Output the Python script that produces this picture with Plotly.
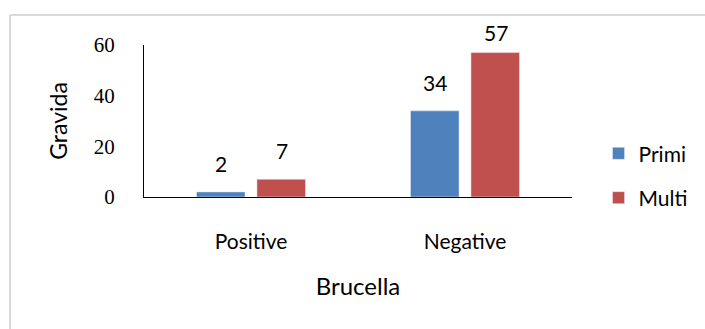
import plotly.graph_objects as go

categories = ["Positive", "Negative"]
primi = [2, 34]
multi = [7, 57]
y_ticks = [0, 20, 40, 60]
Y_MAX = 60

SANS = "Lato"
SERIF = "Liberation Serif"
BAR_SLOT_PX = 30.5  # half of the per-series slot width inside a category

fig = go.Figure()
fig.add_trace(go.Bar(
    name="Primi", x=categories, y=primi,
    marker=dict(color="#4F81BD"),
    legendgroup="primi",
))
fig.add_trace(go.Bar(
    name="Multi", x=categories, y=multi,
    marker=dict(color="#C0504D"),
    legendgroup="multi",
))

# value labels above each bar; labels near the top of the axis sit closer
for values, shift in ((primi, -BAR_SLOT_PX), (multi, BAR_SLOT_PX)):
    for cat, v in zip(categories, values):
        fig.add_annotation(
            x=cat, y=v, xref="x", yref="y", text=str(v),
            showarrow=False, xshift=shift,
            yshift=6 if v > 0.9 * Y_MAX else 14, yanchor="bottom",
            font=dict(family=SANS, size=21, color="#000000"),
        )

fig.update_layout(
    width=705, height=329,
    margin=dict(l=144, r=129, t=45, b=132),
    paper_bgcolor="white", plot_bgcolor="white",
    barmode="group", bargap=0.435, bargroupgap=0.197,
    font=dict(family=SANS, color="#000000"),
    legend=dict(
        x=1.062, xanchor="left", y=0.14, yanchor="middle",
        font=dict(family=SANS, size=21),
        tracegroupgap=14, bgcolor="rgba(0,0,0,0)",
    ),
    shapes=[
        dict(type="line", xref="paper", yref="paper",
             x0=-0.313, x1=1.4, y0=1.197, y1=1.197,
             line=dict(color="#D9D9D9", width=2)),
        dict(type="line", xref="paper", yref="paper",
             x0=-0.313, x1=-0.313, y0=1.197, y1=-1.0,
             line=dict(color="#D9D9D9", width=2)),
    ],
)

fig.update_xaxes(
    showline=True, linecolor="#000000", linewidth=1,
    showgrid=False, ticks="",
    tickfont=dict(family=SANS, size=21),
    ticklabelstandoff=26,
    title=dict(text="Brucella", font=dict(family=SANS, size=24), standoff=25),
)
fig.update_yaxes(
    range=[0, Y_MAX], tickvals=y_ticks,
    showline=True, linecolor="#000000", linewidth=1,
    showgrid=False, zeroline=False, ticks="",
    tickfont=dict(family=SERIF, size=21),
    ticklabelstandoff=24,
    title=dict(text="Gravida", font=dict(family=SANS, size=23), standoff=19),
)

fig.write_html("out.html")
